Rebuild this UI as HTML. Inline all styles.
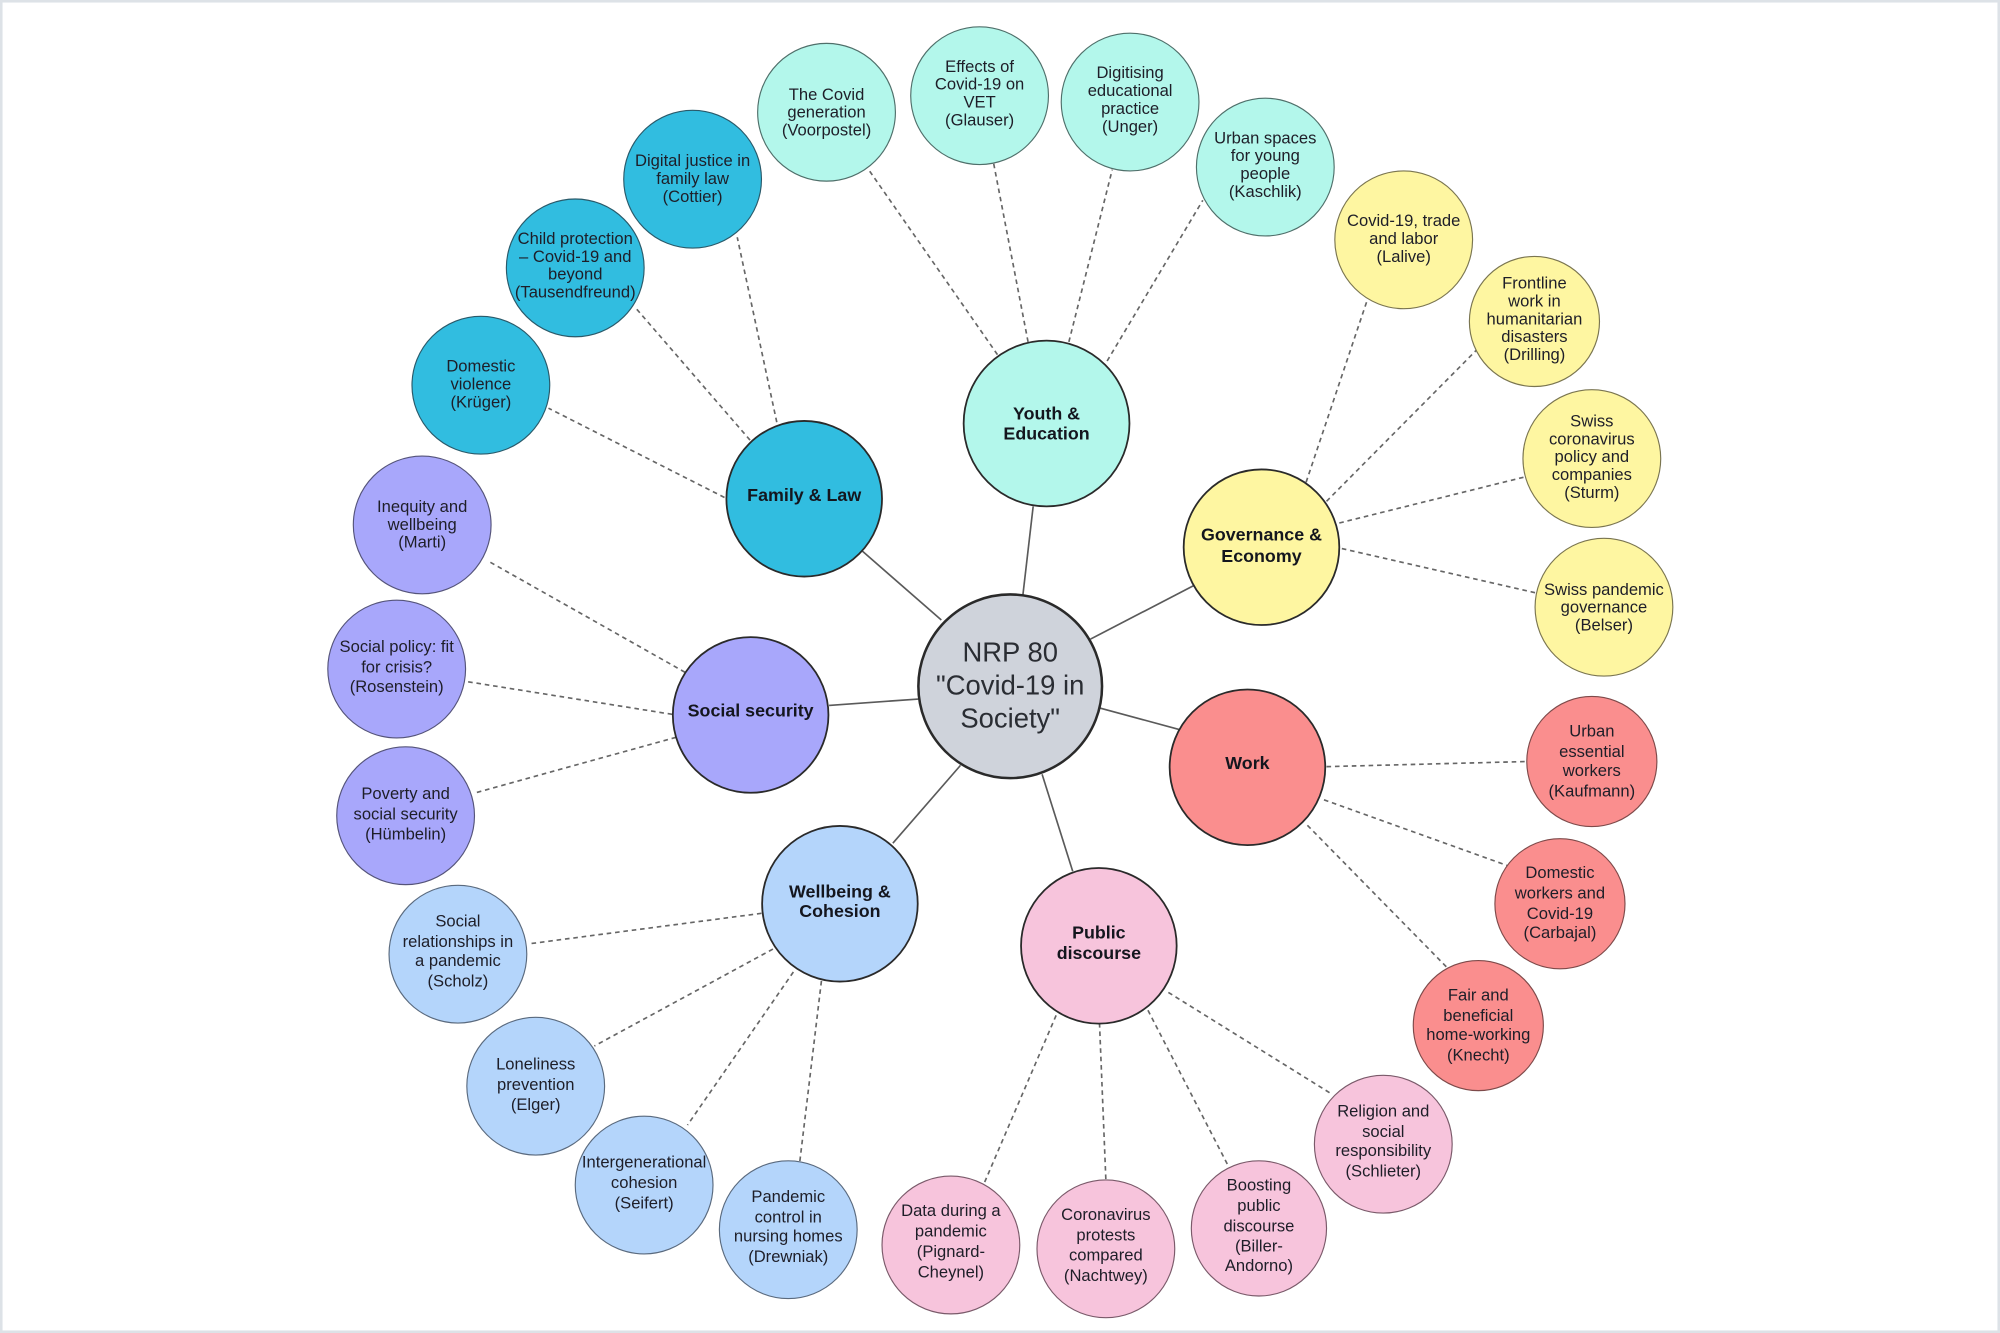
<!DOCTYPE html>
<html>
<head>
<meta charset="utf-8">
<style>
html,body{margin:0;padding:0;background:#fff;}
body{width:2000px;height:1333px;overflow:hidden;}
svg{display:block;}
text{font-family:"Liberation Sans",Arial,sans-serif;text-anchor:middle;dominant-baseline:central;}
.l{font-size:13px;fill:#1e1e28;}
.c{font-size:14px;font-weight:bold;fill:#14161e;}
.s{stroke:#5a5a5a;stroke-width:1.3;fill:none;}
.d{stroke:#666;stroke-width:1.3;stroke-dasharray:3.6 3;fill:none;}
.lf{stroke-width:0.9;}
.cat{stroke:#2a2a2a;stroke-width:1.4;}
</style>
</head>
<body>
<svg width="2000" height="1333" viewBox="0 0 1568 1045" preserveAspectRatio="none" xmlns="http://www.w3.org/2000/svg">
<rect x="0" y="0" width="1568" height="1045" fill="#fff"/>
<rect x="1" y="1" width="1566" height="1043" fill="none" stroke="#dde2e7" stroke-width="2"/>

<!-- solid connectors -->
<line class="s" x1="802" y1="466" x2="810" y2="397"/>
<line class="s" x1="738" y1="486" x2="676" y2="432"/>
<line class="s" x1="720" y1="548" x2="650" y2="553"/>
<line class="s" x1="753" y1="600" x2="700" y2="661"/>
<line class="s" x1="817" y1="607" x2="841" y2="683"/>
<line class="s" x1="862" y1="555" x2="925" y2="572"/>
<line class="s" x1="855" y1="501" x2="936" y2="459"/>

<!-- dashed connectors -->
<line class="d" x1="782" y1="278" x2="681" y2="133"/>
<line class="d" x1="806" y1="268" x2="779" y2="128"/>
<line class="d" x1="838" y1="268" x2="872" y2="133"/>
<line class="d" x1="868" y1="283" x2="943" y2="157"/>

<line class="d" x1="609" y1="331" x2="578" y2="186"/>
<line class="d" x1="588" y1="345" x2="498" y2="241"/>
<line class="d" x1="568" y1="390" x2="430" y2="320"/>

<line class="d" x1="537" y1="527" x2="383" y2="440"/>
<line class="d" x1="527" y1="560" x2="364" y2="534"/>
<line class="d" x1="530" y1="578" x2="371" y2="622"/>

<line class="d" x1="597" y1="716" x2="414" y2="740"/>
<line class="d" x1="606" y1="744" x2="466" y2="820"/>
<line class="d" x1="622" y1="762" x2="539" y2="882"/>
<line class="d" x1="644" y1="769" x2="627" y2="911"/>

<line class="d" x1="828" y1="796" x2="771" y2="929"/>
<line class="d" x1="862" y1="802" x2="867" y2="925"/>
<line class="d" x1="900" y1="792" x2="965" y2="918"/>
<line class="d" x1="916" y1="778" x2="1043" y2="857"/>

<line class="d" x1="1040" y1="601" x2="1197" y2="597"/>
<line class="d" x1="1038" y1="627" x2="1183" y2="679"/>
<line class="d" x1="1025" y1="647" x2="1134" y2="758"/>

<line class="d" x1="1024" y1="378" x2="1072" y2="235"/>
<line class="d" x1="1040" y1="393" x2="1158" y2="274"/>
<line class="d" x1="1050" y1="410" x2="1195" y2="374"/>
<line class="d" x1="1052" y1="430" x2="1205" y2="465"/>

<!-- center -->
<circle cx="792" cy="538" r="72" fill="#cfd3db" stroke="#2a2a2a" stroke-width="2"/>
<text x="792" y="511" style="font-size:21.5px;fill:#2a2d33">NRP 80</text>
<text x="792" y="537" style="font-size:21.5px;fill:#2a2d33">"Covid-19 in</text>
<text x="792" y="563" style="font-size:21.5px;fill:#2a2d33">Society"</text>

<!-- categories -->
<circle class="cat" cx="820.5" cy="332" r="65" fill="#b3f7eb"/>
<text class="c" x="820.5" y="324">Youth &amp;</text>
<text class="c" x="820.5" y="340">Education</text>

<circle class="cat" cx="630.5" cy="391" r="61" fill="#31bde0"/>
<text class="c" x="630.5" y="388">Family &amp; Law</text>

<circle class="cat" cx="989" cy="429" r="61" fill="#fef6a1"/>
<text class="c" x="989" y="419">Governance &amp;</text>
<text class="c" x="989" y="436">Economy</text>

<circle class="cat" cx="588.5" cy="560.5" r="61" fill="#a8a7fb"/>
<text class="c" x="588.5" y="557">Social security</text>

<circle class="cat" cx="978" cy="601.5" r="61" fill="#fa8e8e"/>
<text class="c" x="978" y="598">Work</text>

<circle class="cat" cx="658.5" cy="708.5" r="61" fill="#b4d5fb"/>
<text class="c" x="658.5" y="699">Wellbeing &amp;</text>
<text class="c" x="658.5" y="714">Cohesion</text>

<circle class="cat" cx="861.5" cy="741.5" r="61" fill="#f7c4dc"/>
<text class="c" x="861.5" y="731">Public</text>
<text class="c" x="861.5" y="747">discourse</text>

<!-- Youth leaves -->
<g fill="#b3f7eb" stroke="#4f6f6a">
<circle class="lf" cx="648" cy="88" r="54"/>
<circle class="lf" cx="768" cy="75" r="54"/>
<circle class="lf" cx="886" cy="80" r="54"/>
<circle class="lf" cx="992" cy="131" r="54"/>
</g>
<text class="l" x="648" y="74">The Covid</text>
<text class="l" x="648" y="88">generation</text>
<text class="l" x="648" y="102">(Voorpostel)</text>
<text class="l" x="768" y="52">Effects of</text>
<text class="l" x="768" y="66">Covid-19 on</text>
<text class="l" x="768" y="80">VET</text>
<text class="l" x="768" y="94">(Glauser)</text>
<text class="l" x="886" y="57">Digitising</text>
<text class="l" x="886" y="71">educational</text>
<text class="l" x="886" y="85">practice</text>
<text class="l" x="886" y="99">(Unger)</text>
<text class="l" x="992" y="108">Urban spaces</text>
<text class="l" x="992" y="122">for young</text>
<text class="l" x="992" y="136">people</text>
<text class="l" x="992" y="150">(Kaschlik)</text>

<!-- Family leaves -->
<g fill="#31bde0" stroke="#2a5a6a">
<circle class="lf" cx="543" cy="140.5" r="54"/>
<circle class="lf" cx="451" cy="210" r="54"/>
<circle class="lf" cx="377" cy="302" r="54"/>
</g>
<text class="l" x="543" y="126">Digital justice in</text>
<text class="l" x="543" y="140">family law</text>
<text class="l" x="543" y="154">(Cottier)</text>
<text class="l" x="451" y="187">Child protection</text>
<text class="l" x="451" y="201">– Covid-19 and</text>
<text class="l" x="451" y="215">beyond</text>
<text class="l" x="451" y="229">(Tausendfreund)</text>
<text class="l" x="377" y="287">Domestic</text>
<text class="l" x="377" y="301">violence</text>
<text class="l" x="377" y="315">(Krüger)</text>

<!-- Social security leaves -->
<g fill="#a8a7fb" stroke="#55547a">
<circle class="lf" cx="331" cy="411.5" r="54"/>
<circle class="lf" cx="311" cy="524.5" r="54"/>
<circle class="lf" cx="318" cy="639.5" r="54"/>
</g>
<text class="l" x="331" y="397">Inequity and</text>
<text class="l" x="331" y="411">wellbeing</text>
<text class="l" x="331" y="425">(Marti)</text>
<text class="l" x="311" y="507">Social policy: fit</text>
<text class="l" x="311" y="523">for crisis?</text>
<text class="l" x="311" y="538">(Rosenstein)</text>
<text class="l" x="318" y="622">Poverty and</text>
<text class="l" x="318" y="638">social security</text>
<text class="l" x="318" y="654">(Hümbelin)</text>

<!-- Wellbeing leaves -->
<g fill="#b4d5fb" stroke="#5a6a7e">
<circle class="lf" cx="359" cy="748" r="54"/>
<circle class="lf" cx="420" cy="851.5" r="54"/>
<circle class="lf" cx="505" cy="929" r="54"/>
<circle class="lf" cx="618" cy="964" r="54"/>
</g>
<text class="l" x="359" y="722">Social</text>
<text class="l" x="359" y="738">relationships in</text>
<text class="l" x="359" y="753">a pandemic</text>
<text class="l" x="359" y="769">(Scholz)</text>
<text class="l" x="420" y="834">Loneliness</text>
<text class="l" x="420" y="850">prevention</text>
<text class="l" x="420" y="866">(Elger)</text>
<text class="l" x="505" y="911">Intergenerational</text>
<text class="l" x="505" y="927">cohesion</text>
<text class="l" x="505" y="943">(Seifert)</text>
<text class="l" x="618" y="938">Pandemic</text>
<text class="l" x="618" y="954">control in</text>
<text class="l" x="618" y="969">nursing homes</text>
<text class="l" x="618" y="985">(Drewniak)</text>

<!-- Public discourse leaves -->
<g fill="#f7c4dc" stroke="#7a5a6a">
<circle class="lf" cx="745.5" cy="976" r="54"/>
<circle class="lf" cx="867" cy="979" r="54"/>
<circle class="lf" cx="987" cy="963" r="53"/>
<circle class="lf" cx="1084.5" cy="897" r="54"/>
</g>
<text class="l" x="745.5" y="949">Data during a</text>
<text class="l" x="745.5" y="965">pandemic</text>
<text class="l" x="745.5" y="981">(Pignard-</text>
<text class="l" x="745.5" y="997">Cheynel)</text>
<text class="l" x="867" y="952">Coronavirus</text>
<text class="l" x="867" y="968">protests</text>
<text class="l" x="867" y="984">compared</text>
<text class="l" x="867" y="1000">(Nachtwey)</text>
<text class="l" x="987" y="929">Boosting</text>
<text class="l" x="987" y="945">public</text>
<text class="l" x="987" y="961">discourse</text>
<text class="l" x="987" y="977">(Biller-</text>
<text class="l" x="987" y="992">Andorno)</text>
<text class="l" x="1084.5" y="871">Religion and</text>
<text class="l" x="1084.5" y="887">social</text>
<text class="l" x="1084.5" y="902">responsibility</text>
<text class="l" x="1084.5" y="918">(Schlieter)</text>

<!-- Work leaves -->
<g fill="#fa8e8e" stroke="#7e4a4a">
<circle class="lf" cx="1248" cy="597" r="51"/>
<circle class="lf" cx="1223" cy="708.5" r="51"/>
<circle class="lf" cx="1159" cy="804" r="51"/>
</g>
<text class="l" x="1248" y="573">Urban</text>
<text class="l" x="1248" y="589">essential</text>
<text class="l" x="1248" y="604">workers</text>
<text class="l" x="1248" y="620">(Kaufmann)</text>
<text class="l" x="1223" y="684">Domestic</text>
<text class="l" x="1223" y="700">workers and</text>
<text class="l" x="1223" y="716">Covid-19</text>
<text class="l" x="1223" y="731">(Carbajal)</text>
<text class="l" x="1159" y="780">Fair and</text>
<text class="l" x="1159" y="796">beneficial</text>
<text class="l" x="1159" y="811">home-working</text>
<text class="l" x="1159" y="827">(Knecht)</text>

<!-- Governance leaves -->
<g fill="#fef6a1" stroke="#7a7550">
<circle class="lf" cx="1100.5" cy="188" r="54"/>
<circle class="lf" cx="1203" cy="252" r="51"/>
<circle class="lf" cx="1248" cy="359.5" r="54"/>
<circle class="lf" cx="1257.5" cy="476" r="54"/>
</g>
<text class="l" x="1100.5" y="173">Covid-19, trade</text>
<text class="l" x="1100.5" y="187">and labor</text>
<text class="l" x="1100.5" y="201">(Lalive)</text>
<text class="l" x="1203" y="222">Frontline</text>
<text class="l" x="1203" y="236">work in</text>
<text class="l" x="1203" y="250">humanitarian</text>
<text class="l" x="1203" y="264">disasters</text>
<text class="l" x="1203" y="278">(Drilling)</text>
<text class="l" x="1248" y="330">Swiss</text>
<text class="l" x="1248" y="344">coronavirus</text>
<text class="l" x="1248" y="358">policy and</text>
<text class="l" x="1248" y="372">companies</text>
<text class="l" x="1248" y="386">(Sturm)</text>
<text class="l" x="1257.5" y="462">Swiss pandemic</text>
<text class="l" x="1257.5" y="476">governance</text>
<text class="l" x="1257.5" y="490">(Belser)</text>
</svg>
</body>
</html>
